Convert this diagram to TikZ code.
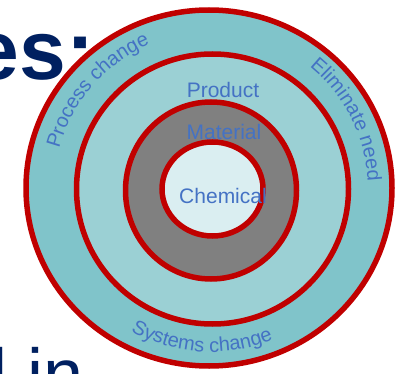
\documentclass[tikz,border=0pt]{standalone}
\usepackage{fontspec}
\setmainfont{Liberation Sans}
\usetikzlibrary{decorations.text}

\definecolor{ringred}{HTML}{C00000}
\definecolor{outerteal}{HTML}{80C4CA}
\definecolor{midteal}{HTML}{9BD0D4}
\definecolor{coregray}{HTML}{808080}
\definecolor{innerpale}{HTML}{DAEEF1}
\definecolor{labelblue}{HTML}{4472C4}
\definecolor{titlenavy}{HTML}{002060}

\tikzset{
  ring/.style={draw=ringred, line width=5.5pt},
  ringtext/.style={text=labelblue, font=\fontsize{21}{25}\selectfont, anchor=base, inner sep=0pt},
  slidetext/.style={text=titlenavy, anchor=base west, inner sep=0pt},
  arctext/.style={decorate, decoration={text along path, text align=center, text color=labelblue, text={#1}}}
}

\begin{document}
\begin{tikzpicture}[x=1pt,y=1pt]
    \useasboundingbox (0,0) rectangle (399,373);
    \clip (0,0) rectangle (399,373);
    \coordinate (hub) at (211,184);

    % Slide text behind the rings
    \node[slidetext, font=\fontsize{84}{90}\selectfont\bfseries] (title) at (-27.6,293) {es:};
    \node[slidetext, font=\fontsize{72}{80}\selectfont] (body) at (-9,-26) {l in};

    % Concentric rings, outside in
    \draw[ring, fill=outerteal] (209,185) ellipse [x radius=183, y radius=178];
    \draw[ring, fill=midteal] (212.5,184) ellipse [x radius=136, y radius=135];
    \draw[ring, fill=coregray] (211,182.5) ellipse [x radius=85.5, y radius=88.5];
    \draw[ring, fill=innerpale] (212.5,184) ellipse [x radius=50.5, y radius=47];

    % Labels in the rings
    \node[ringtext] (product) at (223,276) {Product};
    \node[ringtext] (material) at (224,234) {Material};
    \node[ringtext] (chemical) at (223,170) {Chemical};

    % Labels along the outer ring
    \path[arctext={|\fontsize{20}{24}\selectfont|Process change}] (hub) ++(170:157) arc[start angle=170, end angle=108, radius=157];
    \path[arctext={|\fontsize{20}{24}\selectfont|Eliminate need}] (hub) ++(58:157) arc[start angle=58, end angle=-4, radius=157];
    \path[arctext={|\fontsize{20}{24}\selectfont|Systems change}] (hub) ++(235:163) arc[start angle=235, end angle=298, radius=163];
\end{tikzpicture}
\end{document}
